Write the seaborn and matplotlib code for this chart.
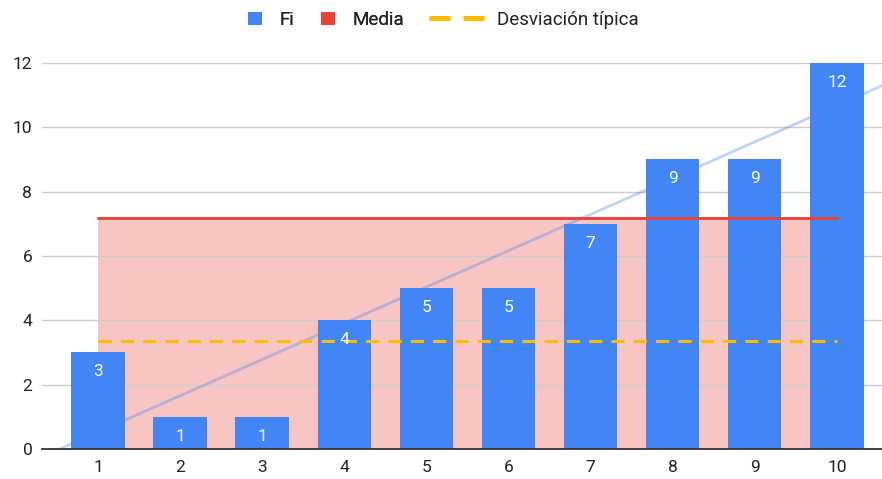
import numpy as np
import pandas as pd
import matplotlib
matplotlib.use("Agg")
import matplotlib.pyplot as plt
from matplotlib.patches import Patch
from matplotlib.lines import Line2D
import seaborn as sns

# Frequencies per class
clases = [1, 2, 3, 4, 5, 6, 7, 8, 9, 10]
fi = [3, 1, 1, 4, 5, 5, 7, 9, 9, 12]
media = 7.18
desviacion = 3.36
y_ticks = [0, 2, 4, 6, 8, 10, 12]

BLUE = "#4285F4"
RED = "#EA4335"
YELLOW = "#FBBC04"
TEXT = "#222222"
FS = 12.5
LEG_FS = 13.5

sns.set_theme(style="white")
plt.rcParams["font.family"] = ["Roboto", "DejaVu Sans"]

df = pd.DataFrame({"clase": clases, "Fi": fi})

fig = plt.figure(figsize=(8.82, 4.79), dpi=100)
ax = fig.add_axes([0.0476, 0.0626, 0.9524, 0.806])

# Shaded area under the mean
ax.fill_between(clases, 0, media, color=RED, alpha=0.3, lw=0, zorder=0.2)

sns.barplot(data=df, x="clase", y="Fi", native_scale=True, color=BLUE,
            saturation=1, width=0.65, linewidth=0, edgecolor="none", ax=ax, zorder=2)

for c, v in zip(clases, fi):
    ax.text(c, v - 0.6, str(v), ha="center", va="center", color="white",
            fontsize=FS, zorder=5)

# Linear trend line
xmin, xmax = 0.318, 10.55
coef = np.polyfit(clases, fi, 1)
xt = np.array([xmin, xmax])
ax.plot(xt, np.polyval(coef, xt), color=BLUE, alpha=0.35, lw=2, zorder=3)

ax.plot([clases[0], clases[-1]], [media, media], color=RED, lw=2.1, zorder=4)
ax.plot([clases[0], clases[-1]], [desviacion, desviacion], color=YELLOW, lw=2.2,
        ls=(0, (4.3, 3.0)), zorder=4)

ax.set_xlim(xmin, xmax)
ax.set_ylim(0, 12)
ax.set_yticks(y_ticks)
ax.set_xticks(clases)
ax.set_xlabel("")
ax.set_ylabel("")
ax.yaxis.grid(True, color="#CCCCCC", lw=1)
ax.set_axisbelow(True)
for s in ["top", "right", "left"]:
    ax.spines[s].set_visible(False)
ax.spines["bottom"].set_color("#333333")
ax.spines["bottom"].set_linewidth(1.3)
ax.spines["bottom"].set_zorder(6)
ax.tick_params(axis="both", length=0, labelsize=FS, labelcolor=TEXT)
ax.tick_params(axis="y", pad=7)
ax.tick_params(axis="x", pad=8)

# Legend: square swatches for the bars and the mean, dashed sample for the deviation
sq = [Patch(facecolor=BLUE, edgecolor="none", label="Fi"),
      Patch(facecolor=RED, edgecolor="none", label="Media")]
leg1 = fig.legend(handles=sq, loc="center left", bbox_to_anchor=(248 / 882, 1 - 20 / 479),
                  ncol=2, frameon=False, fontsize=LEG_FS, handlelength=0.72,
                  handleheight=0.72, handletextpad=0.96, columnspacing=1.44,
                  borderpad=0, borderaxespad=0, labelcolor=TEXT)
dash = [Line2D([0], [0], color=YELLOW, lw=3.6, ls=(0, (4.2, 2.6)), label="Desviación típica")]
fig.legend(handles=dash, loc="center left", bbox_to_anchor=(429 / 882, 1 - 20 / 479),
           frameon=False, fontsize=LEG_FS, handlelength=3.1, handletextpad=0.53,
           borderpad=0, borderaxespad=0, labelcolor=TEXT)
fig.add_artist(leg1)

fig.savefig("out.png", dpi=100)
